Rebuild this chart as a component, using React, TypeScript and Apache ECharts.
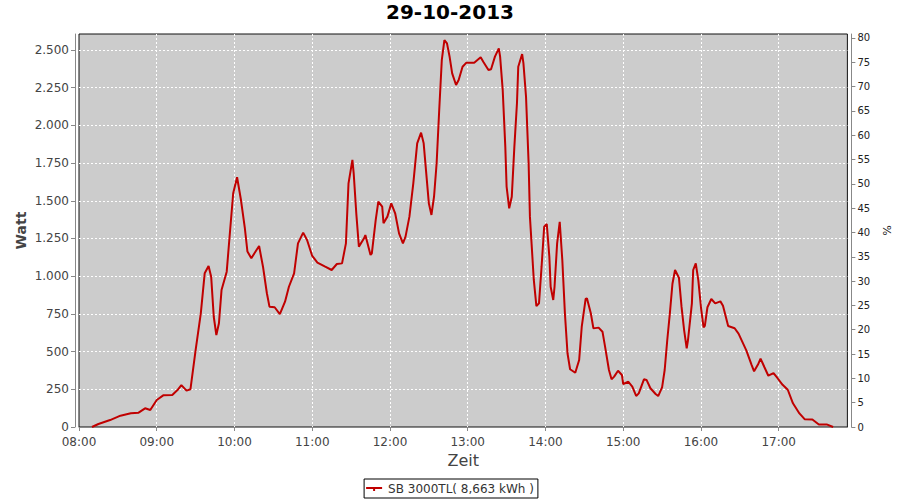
import React, { useEffect, useRef } from "react";
import * as echarts from "echarts";

const titleText = "29-10-2013";
const seriesName = "SB 3000TL( 8,663 kWh )";

const times = [
  "08:10", "08:15", "08:24", "08:32", "08:40", "08:46", "08:51", "08:55", "09:00", "09:05",
  "09:12", "09:16", "09:19", "09:23", "09:26", "09:30", "09:34", "09:37", "09:40", "09:42",
  "09:44", "09:46", "09:48", "09:50", "09:54", "09:56", "09:59", "10:02", "10:05", "10:08",
  "10:10", "10:13", "10:17", "10:19", "10:22", "10:25", "10:27", "10:31", "10:35", "10:39",
  "10:42", "10:46", "10:49", "10:53", "10:56", "11:00", "11:04", "11:10", "11:15", "11:19",
  "11:23", "11:26", "11:28", "11:31", "11:32", "11:34", "11:36", "11:40", "11:41", "11:45",
  "11:46", "11:49", "11:51", "11:54", "11:55", "11:58", "12:01", "12:04", "12:07", "12:10",
  "12:12", "12:15", "12:18", "12:21", "12:24", "12:26", "12:28", "12:30", "12:32", "12:34",
  "12:36", "12:38", "12:40", "12:42", "12:44", "12:46", "12:48", "12:51", "12:53", "12:56",
  "12:59", "13:05", "13:10", "13:12", "13:16", "13:18", "13:21", "13:24", "13:25", "13:27",
  "13:29", "13:30", "13:32", "13:34", "13:36", "13:38", "13:39", "13:42", "13:43", "13:45",
  "13:47", "13:48", "13:51", "13:53", "13:55", "13:57", "13:59", "14:01", "14:03", "14:04",
  "14:06", "14:07", "14:09", "14:11", "14:13", "14:15", "14:17", "14:19", "14:23", "14:26",
  "14:28", "14:31", "14:32", "14:35", "14:37", "14:41", "14:44", "14:46", "14:49", "14:51",
  "14:53", "14:56", "14:59", "15:00", "15:04", "15:07", "15:10", "15:12", "15:16", "15:18",
  "15:21", "15:25", "15:27", "15:30", "15:32", "15:34", "15:36", "15:38", "15:40", "15:43",
  "15:45", "15:47", "15:49", "15:50", "15:53", "15:54", "15:56", "15:58", "16:00", "16:02",
  "16:03", "16:05", "16:08", "16:11", "16:15", "16:17", "16:21", "16:26", "16:29", "16:35",
  "16:39", "16:41", "16:44", "16:46", "16:49", "16:52", "16:56", "16:59", "17:03", "17:07",
  "17:11", "17:16", "17:20", "17:26", "17:31", "17:37", "17:42"
];

const watts = [
  0, 20, 46, 75, 91, 95, 124, 113, 179, 210,
  212, 245, 278, 241, 250, 510, 754, 1019, 1068, 997,
  731, 610, 688, 908, 1030, 1240, 1550, 1656, 1505, 1318,
  1163, 1119, 1174, 1200, 1063, 887, 798, 794, 749, 831,
  930, 1019, 1218, 1289, 1240, 1134, 1090, 1063, 1041, 1081,
  1085, 1218, 1616, 1771, 1682, 1417, 1196, 1251, 1273, 1141,
  1152, 1373, 1494, 1461, 1351, 1395, 1483, 1417, 1284, 1218,
  1262, 1395, 1616, 1881, 1952, 1881, 1682, 1483, 1406, 1527,
  1749, 2102, 2434, 2566, 2544, 2456, 2345, 2268, 2301, 2389,
  2416, 2416, 2452, 2422, 2367, 2372, 2456, 2511, 2456, 2235,
  1859, 1594, 1450, 1527, 1859, 2147, 2389, 2473, 2411, 2190,
  1749, 1395, 975, 802, 820, 1063, 1328, 1346, 1129, 930,
  842, 930, 1218, 1361, 1107, 754, 489, 383, 360, 444,
  665, 849, 853, 754, 654, 659, 632, 533, 378, 316,
  334, 373, 345, 285, 300, 267, 206, 223, 316, 312,
  257, 219, 205, 263, 378, 577, 754, 950, 1041, 990,
  798, 643, 522, 577, 820, 1041, 1085, 970, 794, 660,
  670, 794, 849, 820, 833, 804, 670, 655, 619, 508,
  414, 369, 414, 454, 396, 340, 358, 325, 280, 247,
  157, 90, 52, 50, 17, 17, 0
];

const toMin = (t: string) => {
  const [h, m] = t.split(":").map(Number);
  return h * 60 + m;
};

const fmtTime = (v: number) => {
  const h = Math.floor(v / 60);
  const m = Math.round(v % 60);
  return String(h).padStart(2, "0") + ":" + String(m).padStart(2, "0");
};

const fmtThousands = (v: number) =>
  String(Math.round(v)).replace(/\B(?=(\d{3})+(?!\d))/g, ".");

export default function App() {
  const ref = useRef<HTMLDivElement>(null);
  useEffect(() => {
    if (!ref.current) return;
    const chart = echarts.init(ref.current, undefined, { renderer: "svg" });
    const font = "DejaVu Sans";
    const data = times.map((t, i) => [toMin(t), watts[i]]);
    const gridLine = { show: true, showMaxLine: false, showMinLine: false, lineStyle: { color: "#ffffff", type: [2, 2], width: 1 } };
    chart.setOption({
      animation: false,
      backgroundColor: "#ffffff",
      textStyle: { fontFamily: font },
      title: {
        text: titleText,
        left: "center",
        top: 2,
        padding: 0,
        textStyle: { fontFamily: font, fontSize: 20, fontWeight: "bold", color: "#000" },
      },
      legend: {
        bottom: 2,
        left: "center",
        data: [seriesName],
        borderColor: "#000",
        borderWidth: 1,
        borderRadius: 0,
        padding: [4, 4, 3, 2],
        itemWidth: 16,
        itemHeight: 4,
        itemGap: 4,
        icon: "path://M0,0 L16,0 L16,2 L0,2 Z M7,2 L9,2 L9,4 L7,4 Z",
        textStyle: { fontFamily: font, fontSize: 12, color: "#333", padding: [0, 0, 0, 1] },
      },
      grid: {
        left: 79,
        right: 51,
        top: 34,
        bottom: 73,
        show: true,
        backgroundColor: "#cccccc",
        borderColor: "#111",
        borderWidth: 1,
      },
      xAxis: {
        type: "value",
        min: 480,
        max: 1073,
        interval: 60,
        offset: 4,
        name: "Zeit",
        nameLocation: "middle",
        nameGap: 21,
        nameMoveOverlap: false,
        nameTextStyle: { fontFamily: font, fontSize: 16, color: "#444" },
        axisLine: { show: true, lineStyle: { color: "#888" } },
        axisTick: { show: true, length: 4, lineStyle: { color: "#888" } },
        axisLabel: {
          margin: 5,
          fontSize: 12,
          color: "#444",
          fontFamily: font,
          showMaxLabel: false,
          formatter: (v: number) => (v % 60 === 0 ? fmtTime(v) : ""),
        },
        splitLine: gridLine,
      },
      yAxis: [
        {
          type: "value",
          min: 0,
          max: 2606,
          interval: 250,
          offset: 4,
          position: "left",
          name: "Watt",
          nameLocation: "middle",
          nameGap: 47,
          nameMoveOverlap: false,
          nameRotate: 90,
          nameTextStyle: { fontFamily: font, fontSize: 14, fontWeight: "bold", color: "#444" },
          axisLine: { show: true, lineStyle: { color: "#888" } },
          axisTick: { show: true, length: 4, lineStyle: { color: "#888" } },
          axisLabel: {
            margin: 6,
            fontSize: 12,
            color: "#444",
            fontFamily: font,
            showMaxLabel: false,
            formatter: (v: number) => (v % 250 === 0 ? fmtThousands(v) : ""),
          },
          splitLine: gridLine,
        },
        {
          type: "value",
          min: 0,
          max: 80.8,
          interval: 5,
          offset: 4,
          position: "right",
          name: "%",
          nameLocation: "middle",
          nameGap: 23,
          nameRotate: -90,
          nameTextStyle: { fontFamily: font, fontSize: 11, color: "#222" },
          axisLine: { show: true, lineStyle: { color: "#888" } },
          axisTick: { show: true, length: 4, lineStyle: { color: "#888" } },
          axisLabel: {
            margin: 6,
            fontSize: 10,
            color: "#222",
            fontFamily: font,
            showMaxLabel: false,
            formatter: (v: number) => (v % 5 === 0 ? String(v) : ""),
          },
          splitLine: { show: false },
        },
      ],
      series: [
        {
          name: seriesName,
          type: "line",
          yAxisIndex: 0,
          data,
          showSymbol: false,
          symbol: "none",
          lineStyle: { color: "#c00000", width: 2 },
          itemStyle: { color: "#c00000" },
        },
      ],
    });
    return () => chart.dispose();
  }, []);
  return (
    <div
      ref={ref}
      style={{ position: "fixed", left: 0, top: 0, width: 900, height: 500 }}
    />
  );
}
